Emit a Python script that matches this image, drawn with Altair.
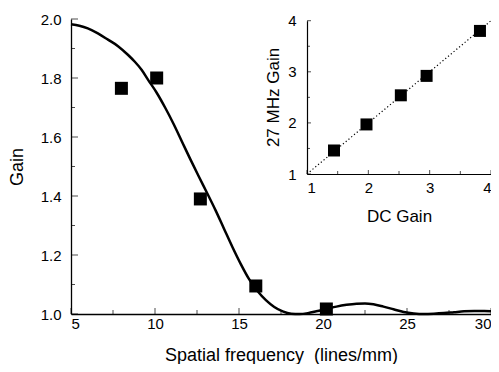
import altair as alt
import pandas as pd

# Main chart: measured points
freq_pts = [8.0, 10.1, 12.7, 16.0, 20.2]
gain_pts = [1.765, 1.80, 1.39, 1.095, 1.017]

# Main chart: fitted curve
curve_x = [5.0, 5.5, 6.0, 6.6, 7.2, 7.8, 8.4, 8.8, 9.2, 9.6, 10.1, 10.6, 11.1, 11.6,
           12.1, 12.6, 13.1, 13.6, 14.1, 14.6, 15.1, 15.6, 16.1, 16.6, 17.1, 17.6,
           18.1, 18.6, 19.1, 19.6, 20.2, 20.8, 21.4, 22.0, 22.5, 23.0, 23.6, 24.2,
           24.8, 25.4, 26.0, 26.6, 27.2, 27.8, 28.4, 29.0, 29.6, 30.0]
curve_y = [1.982, 1.977, 1.968, 1.951, 1.930, 1.908, 1.878, 1.855, 1.828, 1.793, 1.750,
           1.700, 1.645, 1.585, 1.525, 1.467, 1.410, 1.352, 1.290, 1.228, 1.170, 1.118,
           1.078, 1.047, 1.024, 1.009, 1.001, 1.000, 1.003, 1.009, 1.017, 1.025, 1.031,
           1.035, 1.036, 1.033, 1.025, 1.016, 1.007, 1.002, 1.000, 1.001, 1.003, 1.006,
           1.009, 1.010, 1.010, 1.009]

# Inset
dc_gain = [1.44, 1.97, 2.53, 2.95, 3.82]
mhz_gain = [1.46, 1.97, 2.54, 2.92, 3.80]
ref_x = [1, 4]
ref_y = [1, 4]

# Tick values
main_x_major = [5, 10, 15, 20, 25, 30]
main_x_minor = [7.5, 12.5, 17.5, 22.5, 27.5]
main_y_major = [1.0, 1.2, 1.4, 1.6, 1.8, 2.0]
main_y_minor = [1.1, 1.3, 1.5, 1.7, 1.9]
inset_major = [1, 2, 3, 4]
inset_minor = [1.5, 2.5, 3.5]

W, H = 420, 295
FONT = "Liberation Sans"

pts = pd.DataFrame({"f": freq_pts, "g": gain_pts})
curve = pd.DataFrame({"f": curve_x, "g": curve_y})

xs = alt.Scale(domain=[5, 30], nice=False, zero=False)
ys = alt.Scale(domain=[1.0, 2.0], nice=False, zero=False)

main_curve = alt.Chart(curve).mark_line(color="black", strokeWidth=2.5, interpolate="monotone").encode(
    x=alt.X("f:Q", scale=xs, axis=alt.Axis(
        values=main_x_major, format="d", ticks=False, tickSize=0, grid=False,
        labelPadding=2, title="Spatial frequency \u00a0(lines/mm)", titleFontSize=18,
        titleY=46.5, titleBaseline="alphabetic", domainWidth=1.3)),
    y=alt.Y("g:Q", scale=ys, axis=alt.Axis(
        values=main_y_major, format=".1f", ticks=False, tickSize=0, grid=False,
        labelPadding=10, title="Gain", titleX=-54, titleY=H / 2, titleFontSize=18,
        titleBaseline="middle", domainWidth=1.3)),
)
main_pts = alt.Chart(pts).mark_square(size=169, color="black", opacity=1).encode(x="f:Q", y="g:Q")


def vticks(vals, size, ydat, field="v"):
    return alt.Chart(pd.DataFrame({field: vals})).mark_tick(
        orient="vertical", size=size, thickness=1, yOffset=-size / 2, color="black"
    ).encode(x=f"{field}:Q", y=alt.datum(ydat))


def hticks(vals, size, xdat, field="v"):
    return alt.Chart(pd.DataFrame({field: vals})).mark_tick(
        orient="horizontal", size=size, thickness=1, xOffset=size / 2, color="black"
    ).encode(y=f"{field}:Q", x=alt.datum(xdat))


main = alt.layer(
    main_curve, main_pts,
    vticks(main_x_major, 6, 1.0), vticks(main_x_minor, 4, 1.0),
    hticks(main_y_major, 7, 5), hticks(main_y_minor, 4, 5),
)

# Inset
ins = pd.DataFrame({"dc": dc_gain, "mhz": mhz_gain})
refl = pd.DataFrame({"dc": ref_x, "mhz": ref_y})
ixs = alt.Scale(domain=[1, 4], nice=False, zero=False, range=[236, 420])
iys = alt.Scale(domain=[1, 4], nice=False, zero=False, range=[155, 1.7])

inset_line = alt.Chart(refl).mark_line(color="black", strokeWidth=1.2, strokeDash=[1.2, 2.4]).encode(
    x=alt.X("dc:Q", scale=ixs, axis=alt.Axis(
        orient="bottom", offset=-140, values=inset_major, format="d", ticks=False, tickSize=0,
        grid=False, labelPadding=6, title="DC Gain", titleY=47, titleBaseline="alphabetic",
        domainWidth=1.2)),
    y=alt.Y("mhz:Q", scale=iys, axis=alt.Axis(
        orient="left", offset=-236, values=inset_major, format="d", ticks=False, tickSize=0,
        grid=False, labelPadding=11, title="27 MHz Gain", titleX=-34, titleY=78,
        titleBaseline="middle", domainWidth=1.2)),
)
inset_pts = alt.Chart(ins).mark_square(size=144, color="black", opacity=1).encode(x="dc:Q", y="mhz:Q")

inset = alt.layer(
    inset_line, inset_pts,
    vticks(inset_major, 4, 1, "w"), vticks(inset_minor, 3, 1, "w"),
    hticks(inset_major, 4, 1, "w"), hticks(inset_minor, 3, 1, "w"),
)

chart = alt.layer(main, inset).resolve_scale(x="independent", y="independent").properties(
    width=W, height=H,
    background="white",
    autosize=alt.AutoSizeParams(type="none"),
    padding={"left": 63, "top": 11, "right": 0, "bottom": 50},
).configure_view(stroke=None).configure_axis(
    labelFont=FONT, titleFont=FONT, labelFontSize=15, titleFontSize=17,
    titleFontWeight="normal", labelColor="black", titleColor="black", domainColor="black",
)

chart.save("out.html", embed_options={"renderer": "svg", "actions": False})
